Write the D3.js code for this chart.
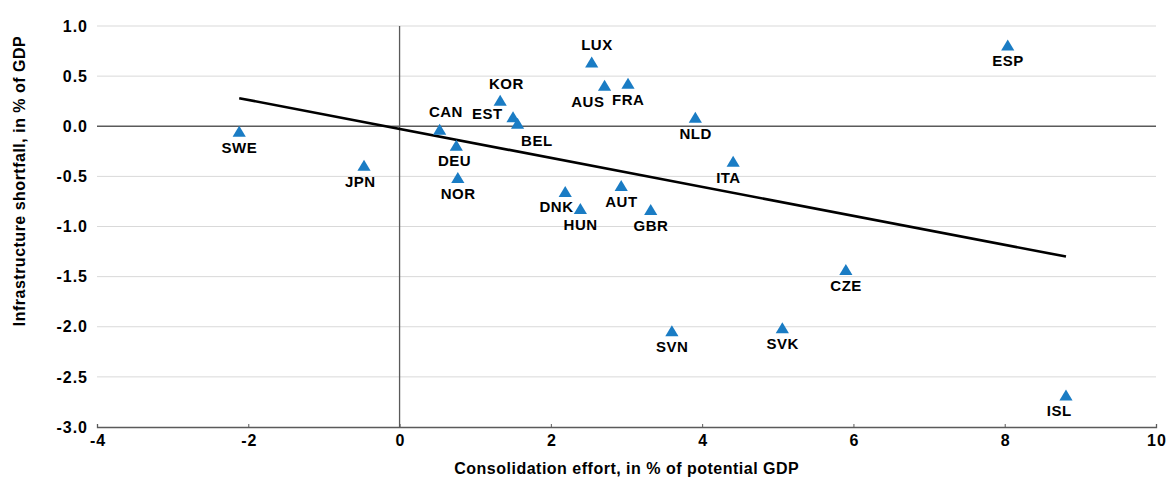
<!DOCTYPE html>
<html><head><meta charset="utf-8">
<script src="https://cdn.jsdelivr.net/npm/d3@7"></script>
<style>
html,body{margin:0;padding:0;background:#fff;}
svg{display:block;font-family:"Liberation Sans",Arial,sans-serif;}
</style></head>
<body>
<svg id="chart" width="1169" height="483"></svg>
<script>
// ---- data ----
const countries = ["SWE","JPN","CAN","DEU","NOR","KOR","EST","BEL","LUX","AUS","FRA","DNK","HUN","AUT","GBR","NLD","ITA","SVN","SVK","CZE","ESP","ISL"];
const consolidation = [-2.12,-0.47,0.53,0.75,0.77,1.33,1.50,1.56,2.54,2.71,3.02,2.19,2.39,2.93,3.32,3.91,4.41,3.60,5.06,5.90,8.04,8.81];
const shortfall = [-0.05,-0.39,-0.03,-0.19,-0.51,0.26,0.095,0.03,0.64,0.41,0.43,-0.65,-0.82,-0.59,-0.83,0.09,-0.35,-2.04,-2.01,-1.43,0.81,-2.68];
const trendX = [-2.12, 8.81];
const trendY = [0.28, -1.30];
const xTicks = [-4,-2,0,2,4,6,8,10];
const yTicks = [1.0,0.5,0.0,-0.5,-1.0,-1.5,-2.0,-2.5,-3.0];
const xTitle = "Consolidation effort, in % of potential GDP";
const yTitle = "Infrastructure shortfall, in % of GDP";

// label placement (style): offset of label centre from point
const labelOffsets = {
  LUX:[5,-17], KOR:[6,-17], CAN:[6,-17.5], EST:[-26,-3], BEL:[19,17],
  AUS:[-17,16], DNK:[-9,15], ITA:[-5,16], ISL:[-7,16], JPN:[-4,16], DEU:[-2,15]
};

// ---- layout ----
const svg = d3.select("#chart");
const mL = 97, mR = 1156, mT = 26, mB = 427;
const x = d3.scaleLinear().domain([-4,10]).range([mL,mR]);
const y = d3.scaleLinear().domain([-3,1]).range([mB,mT]);
const blue = "#1a7cc4";
const fs = 15;
const hy = f => (d => f(d).replace("\u2212","-"));

// gridlines
svg.append("g").selectAll("line").data(yTicks.filter(d=>d!==0 && d!==-3)).join("line")
  .attr("x1",mL).attr("x2",mR).attr("y1",d=>y(d)).attr("y2",d=>y(d))
  .attr("stroke","#d9d9d9").attr("stroke-width",1);

// zero lines
svg.append("line").attr("x1",mL).attr("x2",mR).attr("y1",y(0)).attr("y2",y(0))
  .attr("stroke","#5a5a5a").attr("stroke-width",1.3);
svg.append("line").attr("x1",x(0)).attr("x2",x(0)).attr("y1",mT).attr("y2",mB)
  .attr("stroke","#5a5a5a").attr("stroke-width",1.3);

// x axis
const xAxis = d3.axisBottom(x).tickValues(xTicks).tickSize(-3).tickPadding(8).tickFormat(hy(d3.format("d")));
const gx = svg.append("g").attr("transform",`translate(0,${mB})`).call(xAxis);
gx.select(".domain").attr("stroke","#5a5a5a").attr("stroke-width",1.3);
gx.selectAll(".tick line").attr("stroke","#5a5a5a");
gx.selectAll(".tick text").attr("font-size",16).attr("font-weight","bold").attr("fill","#000")
  .attr("letter-spacing",1).attr("dx",0.5)
  .attr("font-family","Liberation Sans, Arial, sans-serif");

// y axis
const yAxis = d3.axisLeft(y).tickValues(yTicks).tickSize(0).tickPadding(9).tickFormat(hy(d3.format(".1f")));
const gy = svg.append("g").attr("transform",`translate(${mL},0)`).call(yAxis);
gy.select(".domain").remove();
gy.selectAll(".tick text").attr("font-size",16).attr("font-weight","bold").attr("fill","#000")
  .attr("letter-spacing",1)
  .attr("font-family","Liberation Sans, Arial, sans-serif");

// trend line
const line = d3.line().x(d=>x(d[0])).y(d=>y(d[1]));
svg.append("path").datum(d3.zip(trendX,trendY)).attr("d",line)
  .attr("fill","none").attr("stroke","#000").attr("stroke-width",2.6);

// points
const pts = countries.map((c,i)=>({c, vx:consolidation[i], vy:shortfall[i]}));
const tri = "M0,-5.5L6.6,5.5L-6.6,5.5Z";
svg.append("g").selectAll("path").data(pts).join("path")
  .attr("d",tri).attr("fill",blue)
  .attr("transform",d=>`translate(${x(d.vx)},${y(d.vy)})`);

// labels
svg.append("g").selectAll("text").data(pts).join("text")
  .attr("x",d=>x(d.vx)+((labelOffsets[d.c]||[0,16])[0])+0.25)
  .attr("y",d=>y(d.vy)+((labelOffsets[d.c]||[0,16])[1])+fs*0.36)
  .attr("text-anchor","middle").attr("font-size",fs).attr("font-weight","bold").attr("fill","#000")
  .attr("letter-spacing",0.5)
  .text(d=>d.c);

// axis titles
svg.append("text").attr("x",(mL+mR)/2+0.25).attr("y",474).attr("text-anchor","middle")
  .attr("font-size",16).attr("font-weight","bold").attr("fill","#000").attr("letter-spacing",0.5).text(xTitle);
svg.append("text").attr("transform","translate(24.5,181) rotate(-90)").attr("text-anchor","middle")
  .attr("font-size",16).attr("font-weight","bold").attr("fill","#000").attr("letter-spacing",0.5).text(yTitle);
</script>
</body></html>
